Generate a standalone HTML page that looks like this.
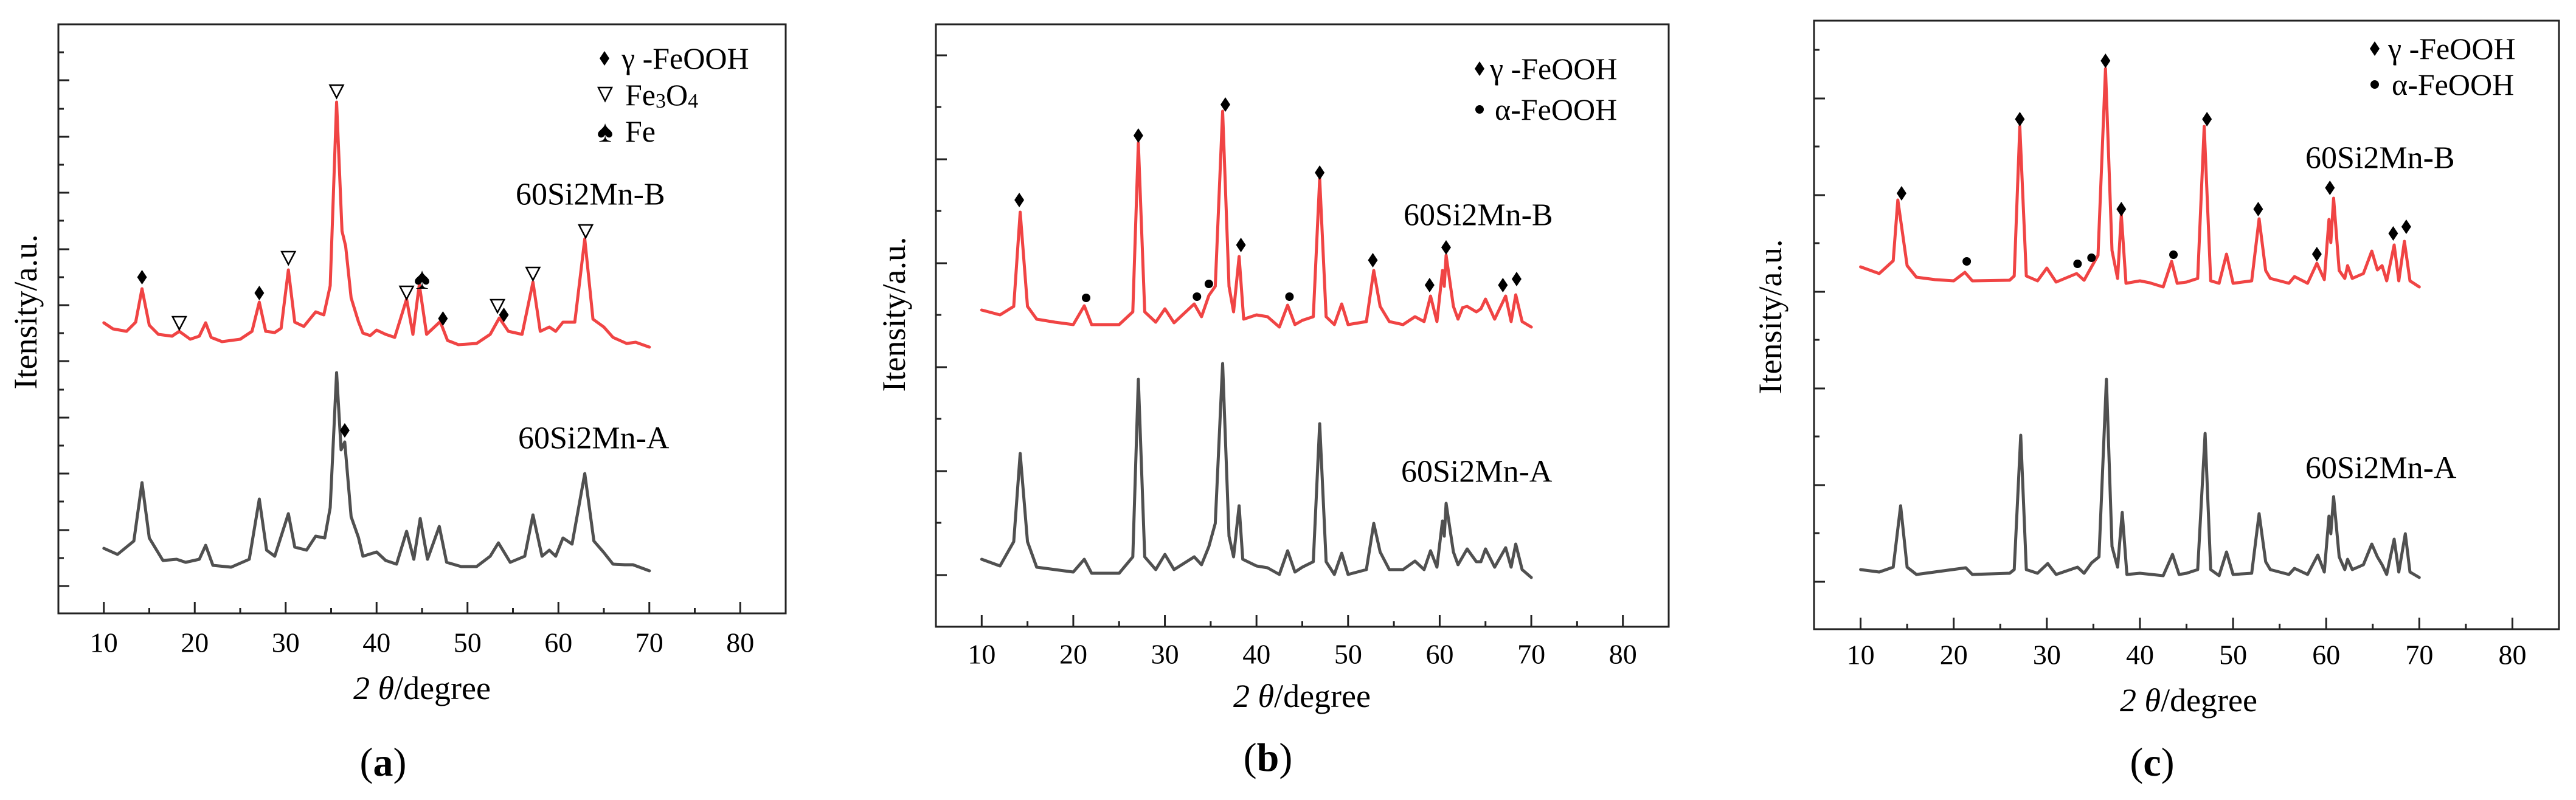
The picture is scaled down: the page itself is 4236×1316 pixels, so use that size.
<!DOCTYPE html>
<html><head><meta charset="utf-8"><style>
html,body{margin:0;padding:0;background:#fff;}
svg{display:block;font-family:"Liberation Serif",serif;}
text{fill:#000;}
</style></head><body>
<svg id="fig" xmlns="http://www.w3.org/2000/svg" width="4236" height="1316" viewBox="0 0 4236 1316">
<rect x="0" y="0" width="4236" height="1316" fill="#fff"/>
<g id="pa"></g>
<g id="pb"></g>
<g id="pc"></g>

<text transform="translate(42,513) rotate(-90)" text-anchor="middle" dominant-baseline="central" font-size="54">Itensity/a.u.</text>
<text x="694" y="1132" text-anchor="middle" dominant-baseline="central" font-size="54"><tspan font-style="italic">2 θ</tspan>/degree</text>
<text x="630" y="1254" text-anchor="middle" dominant-baseline="central" font-size="66">(<tspan font-weight="bold">a</tspan>)</text>
<text x="848" y="320" dominant-baseline="central" font-size="52">60Si2Mn-B</text>
<text x="852" y="721" dominant-baseline="central" font-size="52">60Si2Mn-A</text>
<g>
<polygon points="994,84 1002,96 994,108 986,96" fill="#000"/>
<text x="1022" y="96" dominant-baseline="central" font-size="50">γ -FeOOH</text>
<polygon points="984,144 1006,144 995,166" fill="none" stroke="#000" stroke-width="2.5"/>
<text x="1028" y="156" dominant-baseline="central" font-size="50">Fe<tspan font-size="34" dy="10">3</tspan><tspan dy="-10">O</tspan><tspan font-size="34" dy="10">4</tspan></text>
<text x="995" y="216" text-anchor="middle" dominant-baseline="central" font-size="50">♠</text>
<text x="1028" y="216" dominant-baseline="central" font-size="50">Fe</text>
</g>

<text transform="translate(1470,517) rotate(-90)" text-anchor="middle" dominant-baseline="central" font-size="54">Itensity/a.u.</text>
<text x="2141" y="1145" text-anchor="middle" dominant-baseline="central" font-size="54"><tspan font-style="italic">2 θ</tspan>/degree</text>
<text x="2085" y="1246" text-anchor="middle" dominant-baseline="central" font-size="66">(<tspan font-weight="bold">b</tspan>)</text>
<text x="2308" y="354" dominant-baseline="central" font-size="52">60Si2Mn-B</text>
<text x="2304" y="776" dominant-baseline="central" font-size="52">60Si2Mn-A</text>
<g>
<polygon points="2433,101 2441,113 2433,125 2425,113" fill="#000"/>
<text x="2450" y="113" dominant-baseline="central" font-size="50">γ -FeOOH</text>
<circle cx="2433" cy="180" r="7" fill="#000"/>
<text x="2458" y="180" dominant-baseline="central" font-size="50">α-FeOOH</text>
</g>

<text transform="translate(2911,521) rotate(-90)" text-anchor="middle" dominant-baseline="central" font-size="54">Itensity/a.u.</text>
<text x="3599" y="1152" text-anchor="middle" dominant-baseline="central" font-size="54"><tspan font-style="italic">2 θ</tspan>/degree</text>
<text x="3539" y="1254" text-anchor="middle" dominant-baseline="central" font-size="66">(<tspan font-weight="bold">c</tspan>)</text>
<text x="3791" y="260" dominant-baseline="central" font-size="52">60Si2Mn-B</text>
<text x="3791" y="770" dominant-baseline="central" font-size="52">60Si2Mn-A</text>
<g>
<polygon points="3905,68 3913,80 3905,92 3897,80" fill="#000"/>
<text x="3927" y="80" dominant-baseline="central" font-size="50">γ -FeOOH</text>
<circle cx="3905" cy="139" r="7" fill="#000"/>
<text x="3933" y="139" dominant-baseline="central" font-size="50">α-FeOOH</text>
</g>
</svg>
<script>
const aRed = [[10,478],[11,468],[12.5,464],[13.5,479],[14.2,534],[15,474],[16,459],[17.5,456],[18.3,464],[19.5,451],[20.5,456],[21.2,478],[21.8,454],[23,447],[25,451],[26.3,464],[27.1,512],[27.8,464],[28.8,462],[29.5,469],[30.3,565],[31,479],[32,472],[33.3,496],[34.2,491],[34.9,539],[35.6,841],[36.2,629],[36.6,604],[37.2,519],[38,480],[38.5,461],[39.3,457],[40,466],[41,459],[42,454],[43.3,517],[44,459],[44.7,541],[45.5,459],[47,480],[47.8,449],[49,442],[51,444],[52.5,459],[53.5,486],[54.5,464],[56,459],[57.2,545],[58,464],[59,471],[59.7,464],[60.5,479],[61.8,479],[62.9,616],[63.8,484],[65,471],[66,454],[67.5,444],[68.5,446],[70,438]];
const aGray = [[10,107],[11.5,97],[13.3,119],[14.2,215],[15,124],[16.5,87],[18,89],[19,84],[20.5,89],[21.2,112],[22,79],[24,76],[26,89],[27.1,188],[27.9,104],[28.8,94],[30.3,164],[31,109],[32.3,104],[33.3,127],[34.3,124],[34.9,174],[35.6,396],[36.1,269],[36.5,282],[37.2,159],[38,125],[38.5,94],[40,101],[41,87],[42.2,81],[43.3,135],[44.1,89],[44.8,156],[45.6,89],[46.9,143],[47.7,84],[49.3,77],[51,77],[52.5,94],[53.4,116],[54.7,84],[56.3,94],[57.2,162],[58.2,94],[59,104],[59.7,94],[60.5,124],[61.5,114],[62.9,230],[63.9,119],[65,100],[66,81],[67.3,80],[68.2,80],[70,70]];
const bRed = [[10,521],[12,513],[13.5,527],[14.2,682],[15,527],[16,506],[18,501],[20,497],[21.2,528],[22,497],[25,497],[26.5,518],[27.1,796],[27.8,518],[29,501],[30,523],[31,500],[33.2,531],[34,510],[34.8,545],[35.5,560],[36.3,848],[37,560],[37.5,518],[38.1,609],[38.6,506],[40,513],[41.2,510],[42.5,493],[43.4,529],[44.2,497],[45,504],[46.2,510],[46.9,737],[47.6,510],[48.5,497],[49.3,531],[50,497],[52,502],[52.8,586],[53.5,527],[54.5,502],[56,497],[57.3,510],[58.3,502],[59,544],[59.7,502],[60.3,586],[60.5,560],[60.7,611],[61.5,527],[62,506],[62.5,525],[63,527],[64,518],[64.5,523],[65,539],[66,506],[67.2,544],[67.8,502],[68.3,546],[69,502],[70,493]];
const bGray = [[10,111],[12,100],[13.5,140],[14.2,285],[15,140],[16,98],[20,90],[21.2,111],[22,88],[25,88],[26.5,115],[27.1,407],[27.8,115],[29,94],[30,119],[31,94],[33.2,115],[34,102],[34.8,132],[35.5,170],[36.3,433],[37,149],[37.5,115],[38.1,199],[38.5,111],[40,100],[41.2,97],[42.5,86],[43.4,125],[44.2,90],[45,98],[46.2,107],[46.9,334],[47.6,107],[48.5,86],[49.3,121],[50,86],[52,94],[52.8,170],[53.5,123],[54.5,94],[56,94],[57.3,108],[58.3,94],[59,125],[59.7,98],[60.3,174],[60.5,149],[60.7,203],[61.5,123],[62,102],[62.5,115],[63,128],[64,107],[64.5,107],[65,128],[66,98],[67.2,130],[67.8,98],[68.3,136],[69,94],[70,81]];
const cRed = [[10,596],[12,585],[13.5,606],[14.0,706],[15,598],[16,579],[18,575],[20,573],[21.2,587],[22,573],[26,574],[26.5,581],[27.1,827],[27.8,581],[29,573],[30,594],[31,571],[33.2,585],[34,574],[34.8,596],[35.5,615],[36.3,922],[37,623],[37.6,577],[38,682],[38.5,569],[40,573],[41,570],[42.5,563],[43.4,605],[44,569],[45,571],[46.2,577],[46.9,827],[47.6,573],[48.5,569],[49.3,617],[50,569],[52,573],[52.8,675],[53.5,590],[54,577],[56,569],[56.6,580],[58,569],[59,602],[59.8,575],[60.3,674],[60.5,636],[60.8,709],[61.4,590],[62,577],[62.3,598],[62.8,577],[64,585],[64.9,622],[65.5,591],[66,598],[66.5,573],[67.3,632],[67.8,573],[68.4,638],[69,573],[70,563]];
const cGray = [[10,98],[12,94],[13.5,102],[14.3,203],[15,102],[16,90],[21.3,101],[22,90],[26,92],[26.5,98],[27.2,319],[27.8,98],[29,92],[30.1,108],[31,90],[33.3,102],[34,92],[34.8,109],[35.6,119],[36.4,411],[37,136],[37.6,102],[38.1,192],[38.6,90],[40,92],[42.5,88],[43.5,123],[44.2,90],[45,92],[46.2,98],[47,322],[47.6,98],[48.5,88],[49.3,127],[50,90],[52,92],[52.8,190],[53.5,111],[54,98],[56,90],[56.6,100],[58,90],[59.1,122],[59.8,94],[60.3,186],[60.5,157],[60.8,218],[61.4,119],[62,98],[62.3,115],[62.8,98],[64,106],[64.9,140],[65.5,119],[66,106],[66.5,90],[67.3,148],[67.8,94],[68.5,157],[69,94],[70,85]];
const aDiamonds = [[14.2,553],[27.1,527],[47.3,485],[54,491],[36.5,301]];
const aTriangles = [[18.3,478],[30.3,585],[35.6,859],[43.3,528],[53.3,506],[57.2,559],[63,629]];
const aSpades = [[45,551]];
const bDiamonds = [[14.1,702],[27.1,808],[36.6,859],[38.3,628],[46.9,747],[52.7,603],[58.9,562],[60.7,624],[66.9,562],[68.4,572]];
const bDots = [[21.4,541],[33.5,543],[34.8,564],[43.6,543]];
const cDiamonds = [[14.4,717],[27.1,839],[36.3,935],[38.0,691],[47.2,839],[52.7,691],[59.0,617],[60.4,726],[67.2,651],[68.6,662]];
const cDots = [[21.4,605],[33.3,601],[34.8,611],[43.6,616]];
const xMajorTicks = [10,20,30,40,50,60,70,80];
const xMinorTicks = [15,25,35,45,55,65,75];
const aYTicks = [45,91,137,184,230,276,322,368,415,461,507,553,599,646,692,738,784,830,877,923];
const bYTicks = [85,171,256,342,427,513,598,684,769,855,940];
const cYTicks = [78,158,237,317,396,476,555,635,714,794,873,953];

const NS = 'http://www.w3.org/2000/svg';
function el(tag, parent){ const e=document.createElementNS(NS,tag); parent.appendChild(e); return e; }

function drawPanel(gid, L, R, T, B, labelY, yTicks, red, gray, markers){
  const g = document.getElementById(gid);
  const xs = d => L + (d-5)*(R-L)/80;
  const ys = v => B - v;
  const fr = el('rect', g);
  fr.setAttribute('x',L); fr.setAttribute('y',T); fr.setAttribute('width',R-L); fr.setAttribute('height',B-T);
  fr.setAttribute('fill','none'); fr.setAttribute('stroke','#222'); fr.setAttribute('stroke-width','3');
  
  
  xMajorTicks.forEach(t=>{
    const ln = el('line', g);
    ln.setAttribute('x1',xs(t)); ln.setAttribute('x2',xs(t)); ln.setAttribute('y1',B); ln.setAttribute('y2',B-19);
    ln.setAttribute('stroke','#222'); ln.setAttribute('stroke-width','3');
    
    
    const tx = el('text', g);
    tx.setAttribute('x',xs(t)); tx.setAttribute('y',labelY); tx.setAttribute('text-anchor','middle');
    tx.setAttribute('dominant-baseline','central'); tx.setAttribute('font-size','46');
    tx.textContent = t;
    
    
  });
  xMinorTicks.forEach(t=>{
    const ln = el('line', g);
    ln.setAttribute('x1',xs(t)); ln.setAttribute('x2',xs(t)); ln.setAttribute('y1',B); ln.setAttribute('y2',B-9);
    ln.setAttribute('stroke','#222'); ln.setAttribute('stroke-width','3');
    
    
  });
  yTicks.forEach((t,i)=>{
    const ln = el('line', g);
    const len = (i%2===0)?18:9;
    ln.setAttribute('x1',L); ln.setAttribute('x2',L+len); ln.setAttribute('y1',ys(t)); ln.setAttribute('y2',ys(t));
    ln.setAttribute('stroke','#222'); ln.setAttribute('stroke-width','3');
    
    
  });
  [[gray,'#505050','series-60si2mn-a'],[red,'#f04444','series-60si2mn-b']].forEach(s=>{
    const pl = el('polyline', g);
    pl.setAttribute('points', s[0].map(p=>xs(p[0]).toFixed(1)+','+ys(p[1]).toFixed(1)).join(' '));
    pl.setAttribute('fill','none'); pl.setAttribute('stroke',s[1]); pl.setAttribute('stroke-width','5');
    pl.setAttribute('stroke-linejoin','round'); pl.setAttribute('stroke-linecap','round');
    
    
  });
  markers.forEach(m=>{
    const type = m[0];
    m[1].forEach(p=>{
      const x = xs(p[0]), y = ys(p[1]);
      let e;
      if(type==='diamond'){
        e = el('polygon', g);
        e.setAttribute('points', `${x},${y-12} ${x+8},${y} ${x},${y+12} ${x-8},${y}`);
        e.setAttribute('fill','#000');
        
      } else if(type==='tri'){
        e = el('polygon', g);
        e.setAttribute('points', `${x-11},${y-10} ${x+11},${y-10} ${x},${y+11}`);
        e.setAttribute('fill','none'); e.setAttribute('stroke','#000'); e.setAttribute('stroke-width','2.5');
        
      } else if(type==='dot'){
        e = el('circle', g);
        e.setAttribute('cx',x); e.setAttribute('cy',y); e.setAttribute('r','7'); e.setAttribute('fill','#000');
        
      } else {
        e = el('text', g);
        e.setAttribute('x',x); e.setAttribute('y',y); e.setAttribute('text-anchor','middle');
        e.setAttribute('dominant-baseline','central'); e.setAttribute('font-size','50');
        e.textContent = '♠';
        
      }
      
    });
  });
}
drawPanel('pa', 96, 1292, 40, 1009, 1057, aYTicks, aRed, aGray, [['diamond',aDiamonds],['tri',aTriangles],['spade',aSpades]]);
drawPanel('pb', 1539, 2744, 40, 1031, 1076, bYTicks, bRed, bGray, [['diamond',bDiamonds],['dot',bDots]]);
drawPanel('pc', 2983, 4208, 34, 1035, 1077, cYTicks, cRed, cGray, [['diamond',cDiamonds],['dot',cDots]]);
</script>
</body></html>
